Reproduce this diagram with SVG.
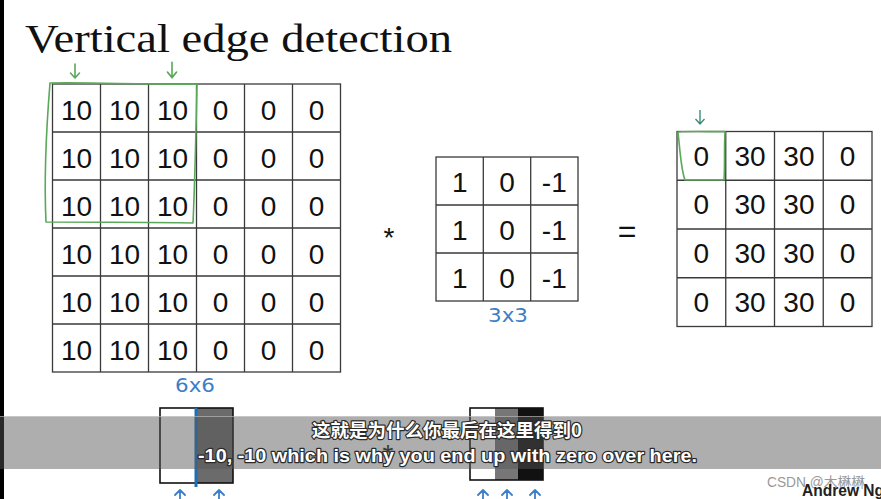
<svg xmlns="http://www.w3.org/2000/svg" xmlns:xlink="http://www.w3.org/1999/xlink" width="881" height="499" viewBox="0 0 881 499">
<defs>
<style>
.grid{fill:none;stroke:#3a3a3a;stroke-width:1.3}
.num{font-family:"Liberation Sans",Arial,sans-serif;font-size:28px;fill:#111;text-anchor:middle}
.green{fill:none;stroke:#5aa85a;stroke-width:1.6;stroke-linecap:round;stroke-linejoin:round}
.blue{fill:none;stroke:#3c7fc8;stroke-width:1.8;stroke-linecap:round;stroke-linejoin:round}
.hand{font-family:"DejaVu Sans",sans-serif;font-size:19px;fill:#3c7fc8;text-anchor:middle}
.sub{font-weight:bold;fill:#fff;stroke:#2a2a2a;stroke-width:2.4px;paint-order:stroke;stroke-linejoin:round}
</style>
<path id="arrDown" d="M0,-7 L0,7 M-4.5,2 L0,7 L4.5,2"/>
<path id="arrUp" d="M0,10 L0,0 M-5,5 L0,0 L5,5"/>
</defs>
<rect width="881" height="499" fill="#fff"/>
<rect x="0" y="0" width="4" height="499" fill="#000"/>

<text x="25" y="52" font-family="'Liberation Serif','Times New Roman',serif" font-size="39" fill="#111" textLength="427" lengthAdjust="spacingAndGlyphs">Vertical edge detection</text>

<g id="input-6x6">
<rect class="grid" x="52.5" y="84" width="288" height="288"/>
<path class="grid" d="M100.5,84V372M148.5,84V372M196.5,84V372M244.5,84V372M292.5,84V372M52.5,132H340.5M52.5,180H340.5M52.5,228H340.5M52.5,276H340.5M52.5,324H340.5"/>
<g class="num">
<text x="76.5" y="120">10</text><text x="124.5" y="120">10</text><text x="172.5" y="120">10</text><text x="220.5" y="120">0</text><text x="268.5" y="120">0</text><text x="316.5" y="120">0</text>
<text x="76.5" y="168">10</text><text x="124.5" y="168">10</text><text x="172.5" y="168">10</text><text x="220.5" y="168">0</text><text x="268.5" y="168">0</text><text x="316.5" y="168">0</text>
<text x="76.5" y="216">10</text><text x="124.5" y="216">10</text><text x="172.5" y="216">10</text><text x="220.5" y="216">0</text><text x="268.5" y="216">0</text><text x="316.5" y="216">0</text>
<text x="76.5" y="264">10</text><text x="124.5" y="264">10</text><text x="172.5" y="264">10</text><text x="220.5" y="264">0</text><text x="268.5" y="264">0</text><text x="316.5" y="264">0</text>
<text x="76.5" y="312">10</text><text x="124.5" y="312">10</text><text x="172.5" y="312">10</text><text x="220.5" y="312">0</text><text x="268.5" y="312">0</text><text x="316.5" y="312">0</text>
<text x="76.5" y="360">10</text><text x="124.5" y="360">10</text><text x="172.5" y="360">10</text><text x="220.5" y="360">0</text><text x="268.5" y="360">0</text><text x="316.5" y="360">0</text>
</g>
<path class="green" d="M50,83 C90,82 150,85 197,84 C196,130 195,180 193,223 C140,222 90,222 46,222 C44,180 47,120 50,83 Z"/>
<text class="hand" x="195" y="392" textLength="40" lengthAdjust="spacingAndGlyphs">6x6</text>
</g>

<g id="operator-star">
<text x="389" y="247" font-family="'Liberation Sans',Arial,sans-serif" font-size="28" fill="#111" text-anchor="middle">*</text>
</g>

<g id="filter-3x3">
<rect class="grid" x="436" y="157" width="142" height="144"/>
<path class="grid" d="M483.3,157V301M530.7,157V301M436,205H578M436,253H578"/>
<g class="num">
<text x="459.7" y="192">1</text><text x="507" y="192">0</text><text x="554.3" y="192">-1</text>
<text x="459.7" y="240">1</text><text x="507" y="240">0</text><text x="554.3" y="240">-1</text>
<text x="459.7" y="288">1</text><text x="507" y="288">0</text><text x="554.3" y="288">-1</text>
</g>
<text class="hand" x="508" y="322" textLength="40" lengthAdjust="spacingAndGlyphs">3x3</text>
</g>

<g id="operator-equals">
<text x="627" y="242" font-family="'Liberation Sans',Arial,sans-serif" font-size="32" fill="#111" text-anchor="middle">=</text>
</g>

<g id="output-4x4">
<rect class="grid" x="677" y="131.5" width="195" height="195"/>
<path class="grid" d="M725.75,131.5V326.5M774.5,131.5V326.5M823.25,131.5V326.5M677,180.25H872M677,229H872M677,277.75H872"/>
<g class="num">
<text x="701.4" y="165.5">0</text><text x="750.1" y="165.5">30</text><text x="798.9" y="165.5">30</text><text x="847.6" y="165.5">0</text>
<text x="701.4" y="214.25">0</text><text x="750.1" y="214.25">30</text><text x="798.9" y="214.25">30</text><text x="847.6" y="214.25">0</text>
<text x="701.4" y="263">0</text><text x="750.1" y="263">30</text><text x="798.9" y="263">30</text><text x="847.6" y="263">0</text>
<text x="701.4" y="311.75">0</text><text x="750.1" y="311.75">30</text><text x="798.9" y="311.75">30</text><text x="847.6" y="311.75">0</text>
</g>
<path class="green" d="M678,132 C695,131 712,132 725,131.5 C724,150 725,165 724,180 C712,180 698,180 685,180 C681,170 680,150 678,132 Z"/>
</g>

<g id="image-2tone">
<rect x="160" y="408" width="36" height="75" fill="#fff"/>
<rect x="196" y="408" width="37" height="75" fill="#6b6b6b"/>
<rect x="160" y="408" width="73" height="75" fill="none" stroke="#111" stroke-width="1.6"/>
<line x1="196" y1="408" x2="196" y2="487" stroke="#1f6fb5" stroke-width="3"/>
</g>

<g id="operator-star-2">
<text x="388" y="464" font-family="'Liberation Sans',Arial,sans-serif" font-size="28" fill="#222" text-anchor="middle">*</text>
</g>

<g id="image-3tone">
<rect x="470" y="408" width="25" height="72" fill="#fff"/>
<rect x="495" y="408" width="23" height="72" fill="#777"/>
<rect x="518" y="408" width="25" height="72" fill="#111"/>
<rect x="470" y="408" width="73" height="72" fill="none" stroke="#111" stroke-width="1.6"/>
</g>

<g id="connectors">
<g class="green">
<use xlink:href="#arrDown" x="75" y="71"/>
<use xlink:href="#arrDown" transform="translate(172,70) scale(1,1.1)"/>
</g>
<use xlink:href="#arrDown" transform="translate(700,117)" fill="none" stroke="#3a8a7a" stroke-width="1.4"/>
<g class="blue">
<use xlink:href="#arrUp" x="180" y="490"/>
<use xlink:href="#arrUp" x="219" y="490"/>
<use xlink:href="#arrUp" x="483" y="490"/>
<use xlink:href="#arrUp" x="507" y="490"/>
<use xlink:href="#arrUp" x="535" y="490"/>
</g>
</g>

<g id="subtitle">
<rect x="0" y="416" width="881" height="53" fill="#555" fill-opacity="0.48"/>
<line x1="0" y1="416.5" x2="881" y2="416.5" stroke="#ddd" stroke-opacity="0.5"/>
<text class="sub" x="312" y="437" font-family="'Noto Sans CJK SC','Noto Sans',sans-serif" font-size="18.5" textLength="270" lengthAdjust="spacingAndGlyphs">这就是为什么你最后在这里得到0</text>
<text class="sub" x="198" y="462" font-family="'Liberation Sans',Arial,sans-serif" font-size="19" textLength="499" lengthAdjust="spacingAndGlyphs">-10, -10 which is why you end up with zero over here.</text>
</g>

<g id="watermark">
<text x="767" y="487" font-family="'Liberation Sans','Noto Sans CJK SC',sans-serif" font-size="14" fill="#999" textLength="98" lengthAdjust="spacingAndGlyphs">CSDN @木楙楙</text>
<text x="802" y="496" font-family="'Liberation Sans',Arial,sans-serif" font-size="17" font-weight="bold" fill="#222" textLength="82" lengthAdjust="spacingAndGlyphs">Andrew Ng</text>
</g>
</svg>
